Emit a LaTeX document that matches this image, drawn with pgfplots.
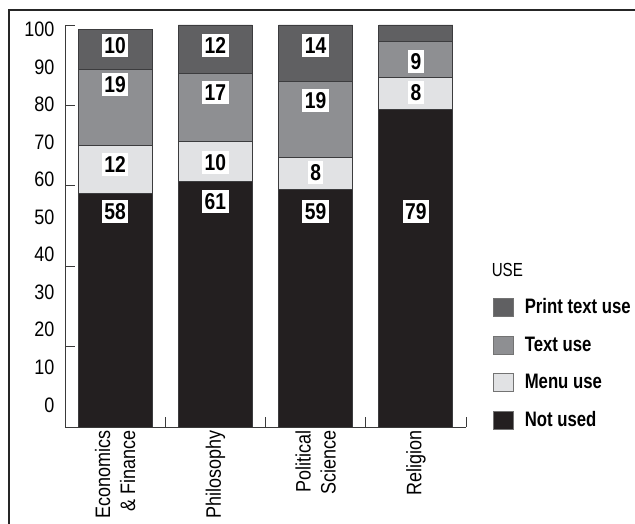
\documentclass[border=0pt]{standalone}
\usepackage{fontspec}
\setmainfont{Liberation Sans}[FakeStretch=0.86]
\newfontfamily\legfont{Liberation Sans}[FakeStretch=0.8]
\newfontfamily\valfont{Liberation Sans}[FakeStretch=0.84]
\usepackage{pgfplots}
\pgfplotsset{compat=1.18}
\usepackage{pgfplotstable}

\definecolor{notused}{HTML}{231F20}
\definecolor{menuuse}{HTML}{E1E2E4}
\definecolor{textuse}{HTML}{8E8F92}
\definecolor{printuse}{HTML}{606062}
\definecolor{segline}{HTML}{3C3C3E}
\definecolor{axisgray}{HTML}{3A3A3A}

% Share of use by discipline (percent)
\pgfplotstableread{
x notused menu text print
0 58 12 19 10
1 61 10 17 12
2 59  8 19 14
3 79  8  9  4
}\usedata

% Where the value labels sit in each bar
\pgfplotstableread{
x y lab
0 95.0 10
0 85.1 19
0 65.2 12
0 53.5 58
1 94.8 12
1 83.1 17
1 65.7 10
1 56.2 61
2 95.0 14
2 81.1 19
2 63.2 8
2 53.7 59
3 91.0 9
3 83.1 8
3 53.7 79
}\labeldata

\begin{document}
\begin{tikzpicture}
\path[use as bounding box] (0bp,0bp) rectangle (635bp,524bp);
\draw[line width=1.6bp, black!85] (9bp,0bp) -- (9bp,514bp) -- (635bp,514bp);

\begin{axis}[
  at={(65bp,97bp)}, anchor=south west,
  width=401bp, height=402bp, scale only axis,
  xmin=-0.5, xmax=3.5, ymin=0, ymax=100,
  ybar stacked, bar width=0.738,
  axis x line=bottom, axis y line=left,
  axis line style={-, axisgray, line width=0.8bp},
  x axis line style={-}, y axis line style={-},
  tick align=inside,
  xtick={0,1,2,3},
  xticklabels={{Economics\\\& Finance}, Philosophy, {Political\\Science}, Religion},
  minor xtick={0.5,1.5,2.5,3.5},
  ytick={5.5,14.8,24.2,33.5,42.9,52.2,61.6,70.9,80.3,89.6,99.0},
  yticklabels={0,10,20,30,40,50,60,70,80,90,100},
  minor ytick={0,20,40,60,80,100},
  major tick length=0pt, minor tick length=10bp,
  tick style={axisgray, line width=0.8bp},
  /pgf/number format/assume math mode=true,
  xticklabel style={rotate=90, anchor=east, align=right,
    font=\fontsize{21}{25}\selectfont},
  yticklabel style={font=\fontsize{21}{24}\selectfont, xshift=-7bp},
  legend image code/.code={
    \draw[#1, draw=black!55, line width=0.6bp] (0bp,-9bp) rectangle (20bp,9bp);
    \path (29bp,0bp);},
  legend style={at={(1.067,0.418)}, anchor=north west, draw=none, fill=none,
    inner sep=0pt, row sep=15.5bp,
    font=\legfont\fontsize{21}{24}\selectfont\bfseries,
    cells={anchor=west},
    nodes={inner sep=2bp, text height=15bp, text depth=3bp}},
  legend cell align=left,
  reverse legend,
]
\addplot[fill=notused, draw=segline, line width=0.8bp] table[x=x, y=notused] {\usedata};
\addlegendentry{Not used}
\addplot[fill=menuuse, draw=segline, line width=0.8bp] table[x=x, y=menu] {\usedata};
\addlegendentry{Menu use}
\addplot[fill=textuse, draw=segline, line width=0.8bp] table[x=x, y=text] {\usedata};
\addlegendentry{Text use}
\addplot[fill=printuse, draw=segline, line width=0.8bp] table[x=x, y=print] {\usedata};
\addlegendentry{Print text use}
\addlegendimage{empty legend}
\addlegendentry{\hspace*{-33bp}\fontsize{19}{21}\selectfont\mdseries USE}
\end{axis}

\begin{axis}[
  at={(65bp,97bp)}, anchor=south west,
  width=401bp, height=402bp, scale only axis,
  xmin=-0.5, xmax=3.5, ymin=0, ymax=100,
  hide axis,
]
\addplot[draw=none, nodes near coords, point meta=explicit symbolic,
  nodes near coords style={anchor=center, fill=white, inner xsep=2.5bp,
    inner ysep=3.5bp, text height=16bp, text depth=0bp,
    font=\valfont\fontsize{23}{25}\selectfont\bfseries}]
  table[x=x, y=y, meta=lab] {\labeldata};
\end{axis}
\end{tikzpicture}
\end{document}
